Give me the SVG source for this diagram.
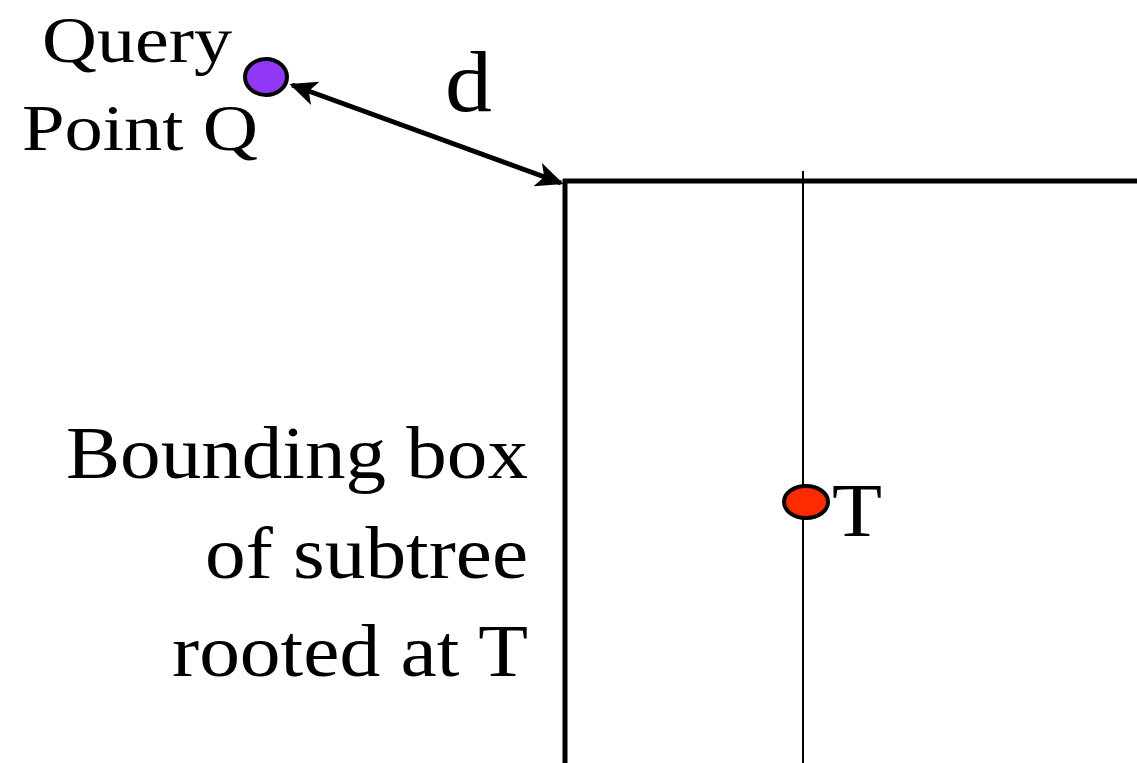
<svg xmlns="http://www.w3.org/2000/svg" width="1137" height="763" viewBox="0 0 1137 763">
<style>
  .lbl { font-family: "Liberation Serif", "Times New Roman", serif; fill: #000; }
  .thick { stroke: #000; stroke-width: 5; fill: none; }
  .thin { stroke: #000; stroke-width: 2; fill: none; }
</style>
<defs>
  <marker id="ah" viewBox="0 0 10 10" refX="9" refY="5" markerWidth="5.5" markerHeight="5.5" markerUnits="strokeWidth" orient="auto-start-reverse">
    <path d="M0,0.5 L10,5 L0,9.5 L2.5,5 Z" fill="#000"/>
  </marker>
</defs>
<rect width="1137" height="763" fill="#fff"/>
<g id="box">
  <line class="thick" x1="563" y1="181" x2="1137" y2="181"/>
  <line class="thick" x1="565" y1="179" x2="565" y2="763"/>
  <line class="thin" x1="803" y1="171" x2="803" y2="763"/>
</g>
<g id="connectors">
  <line class="thick" x1="292" y1="85" x2="561" y2="183" marker-start="url(#ah)" marker-end="url(#ah)"/>
  <text class="lbl" x="445" y="111" font-size="86" textLength="47" lengthAdjust="spacingAndGlyphs">d</text>
</g>
<g id="query">
  <ellipse cx="266" cy="77" rx="21" ry="18" fill="#9038f5" stroke="#000" stroke-width="4"/>
  <text class="lbl" x="42" y="62" font-size="66" textLength="190" lengthAdjust="spacingAndGlyphs">Query</text>
  <text class="lbl" x="22" y="150" font-size="66" textLength="236" lengthAdjust="spacingAndGlyphs">Point Q</text>
</g>
<g id="nodeT">
  <ellipse cx="806" cy="502" rx="22" ry="16" fill="#ff2a00" stroke="#000" stroke-width="4"/>
  <text class="lbl" x="832" y="536" font-size="76" textLength="50" lengthAdjust="spacingAndGlyphs">T</text>
</g>
<g id="bbox-label">
  <text class="lbl" x="66" y="478" font-size="73" textLength="462" lengthAdjust="spacingAndGlyphs">Bounding box</text>
  <text class="lbl" x="205" y="578" font-size="73" textLength="323" lengthAdjust="spacingAndGlyphs">of subtree</text>
  <text class="lbl" x="172" y="676" font-size="73" textLength="356" lengthAdjust="spacingAndGlyphs">rooted at T</text>
</g>
</svg>
